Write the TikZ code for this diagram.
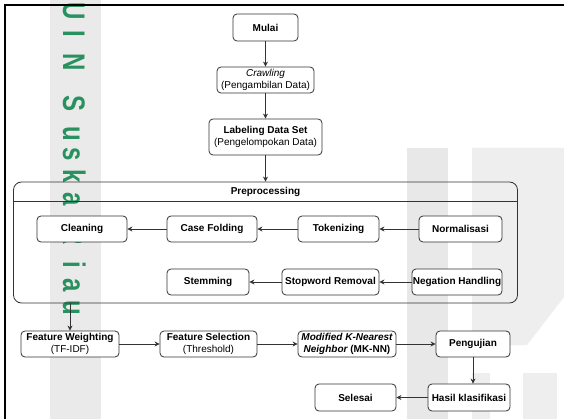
\documentclass[tikz,border=0pt]{standalone}
\usepackage{fontspec}
\setmainfont{Liberation Sans}
\usetikzlibrary{arrows.meta}
\definecolor{linec}{HTML}{333333}
\definecolor{wmgreen}{RGB}{40,145,95}
\definecolor{bandgray}{HTML}{EAEAEA}
\definecolor{logogray}{HTML}{E8E8E8}
\definecolor{logogray2}{HTML}{EEEEEE}
\tikzset{
  box/.style={draw=linec, line width=0.8pt, rounded corners=4pt, fill=white,
    align=center, inner sep=0pt, font=\fontsize{10}{12}\selectfont\bfseries},
  container/.style={draw=linec, line width=0.8pt, rounded corners=8pt, inner sep=0pt},
  title/.style={font=\fontsize{10}{12}\selectfont\bfseries, inner sep=0pt},
  arr/.style={draw=linec, line width=0.8pt, -{Stealth[length=5pt,width=5pt]}},
  wm/.style={text=wmgreen, font=\fontsize{24}{24}\selectfont\bfseries, rotate=-90, yscale=1.3, anchor=base, inner sep=0pt},
  frameline/.style={line width=2pt, black}
}
\begin{document}
\begin{tikzpicture}[x=1pt,y=-1pt]
\useasboundingbox (0,0) rectangle (564,419);
\fill[white] (0,0) rectangle (564,419);
% watermark background
\fill[bandgray] (50,0) rectangle (101,419);
\fill[logogray] (407,148) rectangle (448,419);
\fill[logogray2] (472,148) -- (564,148) -- (564,297) -- (527,345) -- (472,345) -- cycle;
\fill[logogray2] (472,373) rectangle (490,419);
\fill[logogray2] (523,373) rectangle (557,419);
\foreach \ch/\yy in {U/11, I/34, N/62, S/104, u/134, s/154, k/176, a/199, R/236, i/265, a/285, u/308}
  \node[wm] (wm\yy) at (63,\yy) {\ch};
% frame
\draw[frameline] (4.7,419) -- (4.7,4.7) -- (564,4.7);

% top column
\node[box, minimum width=65pt, minimum height=27pt] (mulai) at (265.5,27.5) {Mulai};
\node[box, minimum width=97pt, minimum height=26pt] (crawl) at (265.5,80)
  {{\itshape\mdseries Crawling}\\{\mdseries (Pengambilan Data)}};
\node[box, minimum width=113pt, minimum height=36pt] (label) at (265.5,137)
  {Labeling Data Set\\{\mdseries (Pengelompokan Data)}};

% preprocessing container
\node[container, minimum width=504pt, minimum height=121pt] (prep) at (265.5,242.5) {};
\draw[draw=linec, line width=0.8pt] (prep.west |- 0,201) -- (prep.east |- 0,201);
\node[title] (preptitle) at (265.5,191.5) {Preprocessing};

\node[box, minimum width=90pt, minimum height=26pt] (cleaning) at (82,229) {Cleaning};
\node[box, minimum width=90pt, minimum height=26pt] (casefold) at (212,229) {Case Folding};
\node[box, minimum width=81pt, minimum height=26pt] (token) at (338.5,229) {Tokenizing};
\node[box, minimum width=83pt, minimum height=26pt] (normal) at (460.5,229) {Normalisasi};
\node[box, minimum width=82pt, minimum height=26pt] (stemming) at (208,282) {Stemming};
\node[box, minimum width=97pt, minimum height=26pt] (stopword) at (330.5,282) {Stopword Removal};
\node[box, minimum width=90pt, minimum height=26pt] (negation) at (457,282) {Negation Handling};

% bottom rows
\node[box, minimum width=98pt, minimum height=26pt] (fw) at (70,344)
  {Feature Weighting\\{\mdseries (TF-IDF)}};
\node[box, minimum width=97pt, minimum height=26pt] (fs) at (208.5,344)
  {Feature Selection\\{\mdseries (Threshold)}};
\node[box, minimum width=98pt, minimum height=26pt] (mknn) at (347,344)
  {{\itshape Modified K-Nearest}\\{\itshape Neighbor} (MK-NN)};
\node[box, minimum width=74pt, minimum height=26pt] (uji) at (473,344) {Pengujian};
\node[box, minimum width=82pt, minimum height=27pt] (hasil) at (469,397.5) {Hasil klasifikasi};
\node[box, minimum width=81pt, minimum height=27pt] (selesai) at (355.5,397.5) {Selesai};

% connectors
\draw[arr] (mulai) -- (crawl);
\draw[arr] (crawl) -- (label);
\draw[arr] (label.south) -- (label.south |- prep.north);
\draw[arr] (normal) -- (token);
\draw[arr] (token) -- (casefold);
\draw[arr] (casefold) -- (cleaning);
\draw[arr] (negation) -- (stopword);
\draw[arr] (stopword) -- (stemming);
\draw[arr] (fw.north |- prep.south) -- (fw.north);
\draw[arr] (fw) -- (fs);
\draw[arr] (fs) -- (mknn);
\draw[arr] (mknn) -- (uji);
\draw[arr] (uji.south) -- (uji.south |- hasil.north);
\draw[arr] (hasil) -- (selesai);
\end{tikzpicture}
\end{document}
